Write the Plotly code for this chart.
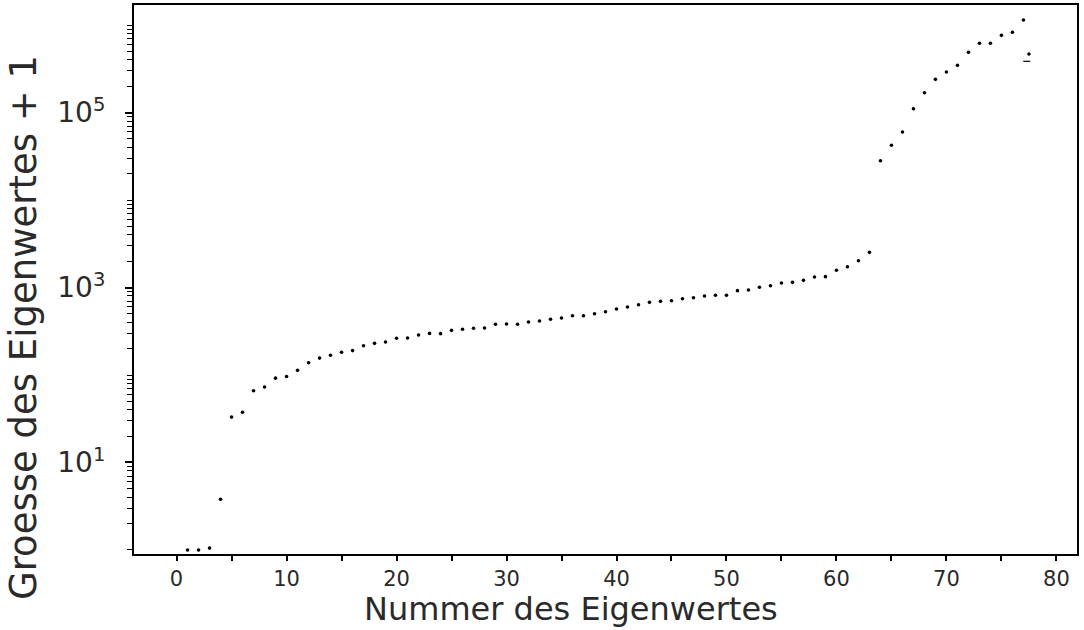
import plotly.graph_objects as go

# Eigenvalue index
nummer = list(range(1, 78)) + [77.5]
# Eigenvalue + 1
groesse = [
    1.0, 1.0, 1.05, 3.8, 33, 37.5, 66, 73, 92, 96,
    113, 138, 156, 168, 182, 190, 216, 230, 238, 263,
    265, 287, 299, 297, 324, 333, 342, 344, 380, 383,
    380, 403, 414, 433, 448, 476, 476, 502, 529, 568,
    599, 636, 677, 695, 706, 745, 764, 799, 814, 815,
    920, 936, 1005, 1049, 1125, 1146, 1208, 1318, 1330, 1572,
    1730, 2025, 2524, 28100, 42200, 59800, 110600, 168500, 239400, 290000,
    346000, 487000, 618000, 618000, 762000, 826000, 1140000, 466000,
]
# small dash mark next to the last point
dash_x = [77.3]
dash_y = [385000]

x_tickvals = list(range(0, 81, 10))
x_ticktext = [str(v) for v in x_tickvals]
x_minor = list(range(5, 81, 10))
y_tickvals = [10, 1000, 100000]
y_ticktext = ["10<sup>1</sup>", "10<sup>3</sup>", "10<sup>5</sup>"]
y_major_nolabel = [1, 100, 10000, 1000000]
y_minor = [m * 10 ** k for k in range(0, 7) for m in range(2, 10)]

FONT = "DejaVu Sans, Verdana, sans-serif"
TXT = "#2a2a2a"

fig = go.Figure()
fig.add_trace(go.Scatter(
    x=nummer, y=groesse, mode="markers",
    marker=dict(size=3.6, color="black", symbol="circle"),
    showlegend=False,
))
fig.add_trace(go.Scatter(
    x=dash_x, y=dash_y, mode="markers",
    marker=dict(size=5, symbol="line-ew", line=dict(width=1.2, color="black")),
    showlegend=False,
))

fig.update_layout(
    width=1084, height=630,
    margin=dict(l=134, r=7, t=5, b=76, autoexpand=False),
    paper_bgcolor="white", plot_bgcolor="white",
    font=dict(family=FONT, color=TXT),
    xaxis=dict(
        range=[-3.87, 81.87], automargin=False,
        tickmode="array", tickvals=x_tickvals, ticktext=x_ticktext,
        ticks="outside", ticklen=5, tickwidth=1.5, tickcolor="black",
        tickfont=dict(family=FONT, size=21, color=TXT),
        ticklabelstandoff=0,
        minor=dict(tickmode="array", tickvals=x_minor, ticks="outside",
                   ticklen=5, tickwidth=1.5, tickcolor="black", showgrid=False),
        showgrid=False, zeroline=False,
        showline=True, linecolor="black", linewidth=2, mirror=True,
    ),
    yaxis=dict(
        type="log", range=[-0.046, 6.229], automargin=False,
        tickmode="array", tickvals=y_tickvals, ticktext=y_ticktext,
        ticks="outside", ticklen=7, tickwidth=1.5, tickcolor="black",
        tickfont=dict(family=FONT, size=28, color=TXT),
        ticklabelstandoff=14,
        minor=dict(tickmode="array", tickvals=y_minor + y_major_nolabel, ticks="outside",
                   ticklen=5, tickwidth=1.2, tickcolor="black", showgrid=False),
        showgrid=False, zeroline=False,
        showline=True, linecolor="black", linewidth=2, mirror=True,
    ),
    annotations=[
        dict(text="Nummer des Eigenwertes", xref="paper", yref="paper",
             x=0.4634, y=-0.1002, xanchor="center", yanchor="middle",
             showarrow=False, font=dict(family=FONT, size=32, color=TXT)),
        dict(text="Groesse des Eigenwertes + 1", xref="paper", yref="paper",
             x=-0.1166, y=0.4117, xanchor="center", yanchor="middle",
             textangle=-90, showarrow=False,
             font=dict(family=FONT, size=37, color=TXT)),
    ],
)

fig.write_html(
    "out.html",
    config={"displayModeBar": False},
    post_script="document.body.style.margin='0';document.body.style.padding='0';",
)
